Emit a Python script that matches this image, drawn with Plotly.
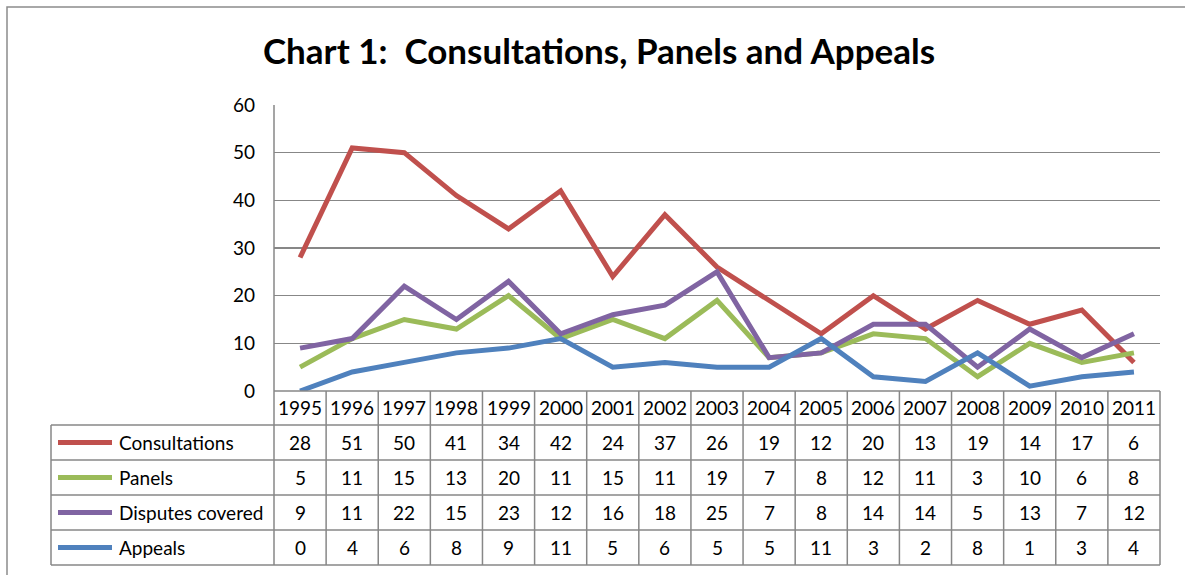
import plotly.graph_objects as go

years = ["1995", "1996", "1997", "1998", "1999", "2000", "2001", "2002", "2003",
         "2004", "2005", "2006", "2007", "2008", "2009", "2010", "2011"]
consultations = [28, 51, 50, 41, 34, 42, 24, 37, 26, 19, 12, 20, 13, 19, 14, 17, 6]
panels = [5, 11, 15, 13, 20, 11, 15, 11, 19, 7, 8, 12, 11, 3, 10, 6, 8]
disputes = [9, 11, 22, 15, 23, 12, 16, 18, 25, 7, 8, 14, 14, 5, 13, 7, 12]
appeals = [0, 4, 6, 8, 9, 11, 5, 6, 5, 5, 11, 3, 2, 8, 1, 3, 4]

series_names = ["Consultations", "Panels", "Disputes covered", "Appeals"]
series_values = [consultations, panels, disputes, appeals]
series_colors = ["#C0504D", "#9BBB59", "#8064A2", "#4F81BD"]

W, H = 1185, 575
FONT = "Lato"
GRID = "#878787"
TXT = 19


def px(x):
    return x / W


def py(y):
    return 1 - y / H


plot_l, plot_r, plot_t, plot_b = 274, 1160, 105, 391
row_edges = [391, 425, 460, 495, 530, 565]
tab_l = 51
n = len(years)
col_w = (plot_r - plot_l) / n

fig = go.Figure()
xs = list(range(n))
for name, vals, col in zip(series_names, series_values, series_colors):
    fig.add_trace(go.Scatter(x=xs, y=vals, mode="lines", name=name,
                             line=dict(color=col, width=5), showlegend=False,
                             hoverinfo="skip"))

shapes = []
line_style = dict(color=GRID, width=1.5)
# outer border
shapes.append(dict(type="rect", xref="paper", yref="paper", x0=px(7), x1=px(1195),
                   y0=py(585), y1=py(7), line=dict(color="#8c8c8c", width=1.5)))
# table horizontal lines
for i, y in enumerate(row_edges):
    x0 = plot_l if i == 0 else tab_l
    shapes.append(dict(type="line", xref="paper", yref="paper", x0=px(x0), x1=px(plot_r),
                       y0=py(y), y1=py(y), line=line_style))
# left table border
shapes.append(dict(type="line", xref="paper", yref="paper", x0=px(tab_l), x1=px(tab_l),
                   y0=py(row_edges[1]), y1=py(row_edges[-1]), line=line_style))
# column separators
for k in range(1, n + 1):
    x = plot_l + k * col_w
    shapes.append(dict(type="line", xref="paper", yref="paper", x0=px(x), x1=px(x),
                       y0=py(row_edges[0]), y1=py(row_edges[-1]), line=line_style))
shapes.append(dict(type="line", xref="paper", yref="paper", x0=px(plot_l), x1=px(plot_l),
                   y0=py(plot_t), y1=py(row_edges[-1]), line=line_style))

annotations = []
# year header
for k, yr in enumerate(years):
    cx = plot_l + (k + 0.5) * col_w
    annotations.append(dict(xref="paper", yref="paper", x=px(cx),
                            y=py((row_edges[0] + row_edges[1]) / 2), text=yr,
                            showarrow=False, font=dict(family=FONT, size=TXT, color="black"),
                            xanchor="center", yanchor="middle"))
# rows
for r, (name, vals, col) in enumerate(zip(series_names, series_values, series_colors)):
    yc = (row_edges[r + 1] + row_edges[r + 2]) / 2
    shapes.append(dict(type="line", xref="paper", yref="paper", x0=px(58), x1=px(112),
                       y0=py(yc), y1=py(yc), line=dict(color=col, width=5)))
    annotations.append(dict(xref="paper", yref="paper", x=px(117), y=py(yc), text=name,
                            showarrow=False, font=dict(family=FONT, size=TXT, color="black"),
                            xanchor="left", yanchor="middle"))
    for k, v in enumerate(vals):
        cx = plot_l + (k + 0.5) * col_w
        annotations.append(dict(xref="paper", yref="paper", x=px(cx), y=py(yc), text=str(v),
                                showarrow=False, font=dict(family=FONT, size=TXT, color="black"),
                                xanchor="center", yanchor="middle"))

fig.update_layout(
    width=W, height=H,
    margin=dict(l=0, r=0, t=0, b=0, pad=0, autoexpand=False),
    paper_bgcolor="white", plot_bgcolor="white",
    title=dict(text="<b>Chart 1:  Consultations, Panels and Appeals</b>",
               x=px(599), y=py(52), xanchor="center", yanchor="middle",
               xref="container", yref="container", automargin=False,
               font=dict(family=FONT, size=35, color="black")),
    xaxis=dict(domain=[px(plot_l), px(plot_r)], range=[-0.5, n - 0.5],
               showticklabels=False, showgrid=False, zeroline=False, showline=False,
               fixedrange=True, automargin=False),
    yaxis=dict(domain=[py(plot_b), py(plot_t)], range=[0, 60], dtick=10,
               showgrid=True, gridcolor=GRID, gridwidth=1.5, zeroline=False,
               showline=False, ticks="", ticklabelstandoff=18, automargin=False,
               fixedrange=True,
               tickfont=dict(family=FONT, size=TXT, color="black")),
    shapes=shapes,
    annotations=annotations,
)

fig.write_html("out.html", config={"displayModeBar": False, "staticPlot": True},
               post_script="document.body.style.margin='0';"
                           "document.documentElement.style.overflow='hidden';")
